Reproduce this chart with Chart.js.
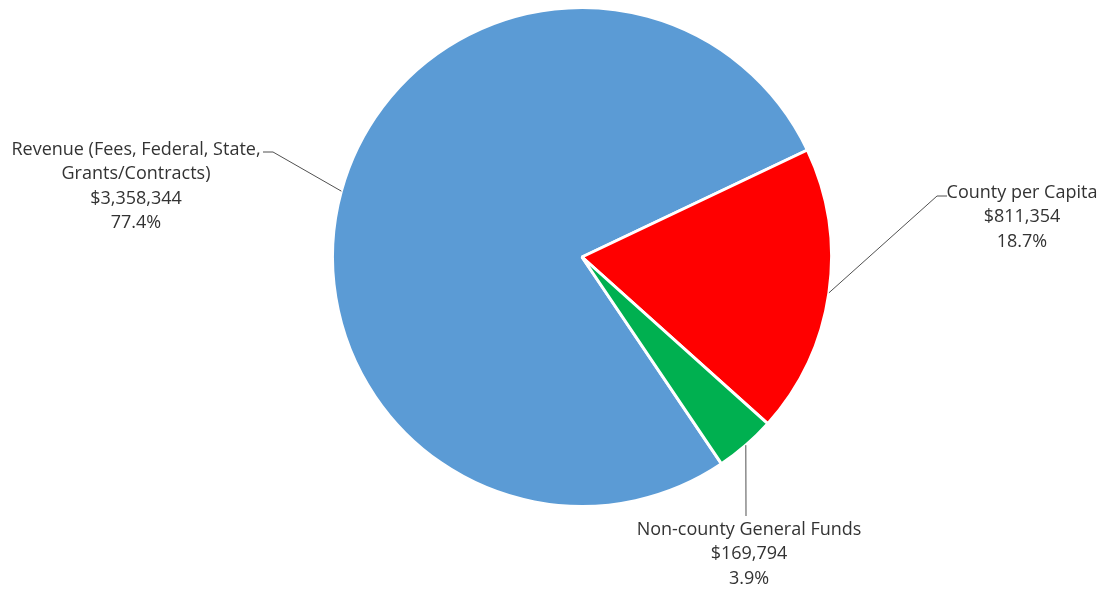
<!DOCTYPE html>
<html>
<head>
<meta charset="utf-8">
<script src="https://cdn.jsdelivr.net/npm/chart.js@4/dist/chart.umd.min.js"></script>
<style>
  html, body { margin: 0; padding: 0; background: #fff; }
  #wrap { width: 1102px; height: 594px; }
</style>
</head>
<body>
<div id="wrap"><canvas id="pie" width="1102" height="594"></canvas></div>
<script>
const categories = [
  "Revenue (Fees, Federal, State, Grants/Contracts)",
  "County per Capita",
  "Non-county General Funds",
];
const amounts = [3358344, 811354, 169794];
const sliceColors = ["#5B9BD5", "#FF0000", "#00B050"];

// label text lines and where each block sits
const labelLines = [
  ["Revenue (Fees, Federal, State,", "Grants/Contracts)"],
  ["County per Capita"],
  ["Non-county General Funds"],
];
const labelPos = [
  { x: 136, y: 150, elbow: [[263, 152], [273, 152]] },
  { x: 1022, y: 193, elbow: [[947, 196], [937, 196]] },
  { x: 749, y: 530, elbow: [[746, 516]] },
];

const total = amounts.reduce((a, b) => a + b, 0);
const money = (v) => "$" + v.toLocaleString("en-US");
const pct = (v) => ((v / total) * 100).toFixed(1) + "%";

const calloutPlugin = {
  id: "callouts",
  afterDraw(chart) {
    const { ctx } = chart;
    const arcs = chart.getDatasetMeta(0).data;
    ctx.save();
    ctx.font = "18px 'Open Sans'";
    ctx.fillStyle = "#333333";
    ctx.textAlign = "center";
    ctx.textBaseline = "middle";

    arcs.forEach((arc, i) => {
      const p = arc.getProps(["x", "y", "startAngle", "endAngle", "outerRadius"], true);
      const mid = (p.startAngle + p.endAngle) / 2;
      const ax = p.x + Math.cos(mid) * p.outerRadius;
      const ay = p.y + Math.sin(mid) * p.outerRadius;

      // leader line from the slice edge to the label
      const pos = labelPos[i];
      ctx.strokeStyle = "#505050";
      ctx.lineWidth = 1;
      ctx.beginPath();
      ctx.moveTo(ax, ay);
      for (let k = pos.elbow.length - 1; k >= 0; k--) {
        ctx.lineTo(pos.elbow[k][0], pos.elbow[k][1]);
      }
      ctx.stroke();

      const lines = [...labelLines[i], money(amounts[i]), pct(amounts[i])];
      lines.forEach((t, j) => ctx.fillText(t, pos.x, pos.y + j * 24.3));
    });
    ctx.restore();
  },
};

new Chart(document.getElementById("pie"), {
  type: "pie",
  data: {
    labels: categories,
    datasets: [
      {
        data: amounts,
        backgroundColor: sliceColors,
        borderColor: "#ffffff",
        borderWidth: 3,
      },
    ],
  },
  options: {
    responsive: false,
    animation: false,
    rotation: 146,
    layout: { padding: { left: 331, right: 269, top: 6, bottom: 86 } },
    plugins: {
      legend: { display: false },
      tooltip: { enabled: false },
    },
  },
  plugins: [calloutPlugin],
});
</script>
</body>
</html>
